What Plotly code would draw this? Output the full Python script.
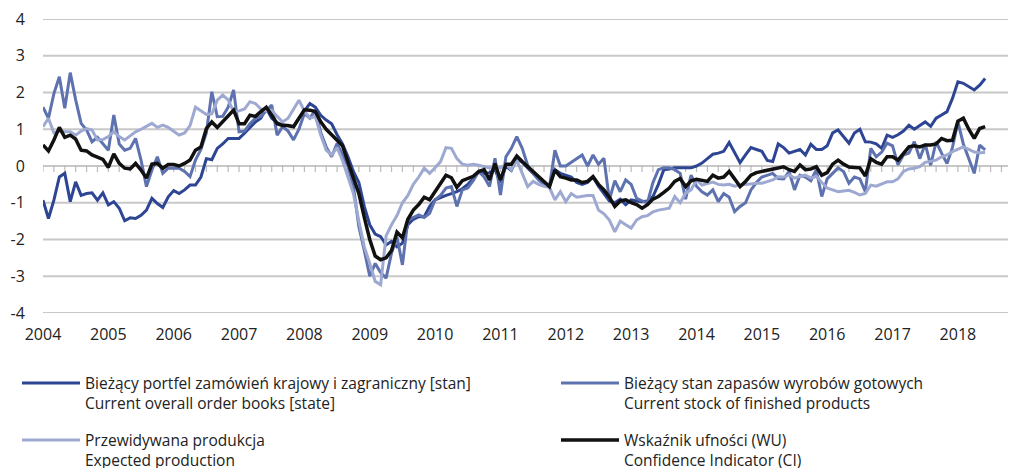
import plotly.graph_objects as go

years = [str(y) for y in range(2004, 2019)]
y_ticks = [-4, -3, -2, -1, 0, 1, 2, 3, 4]
y_labels = ["-4", "-3", "-2", "-1", "0", "1", "2", "3", "4"]

portfel = [
    -0.93, -1.43, -0.93, -0.30, -0.20, -0.97, -0.43, -0.80, -0.75, -0.73, -0.93, -0.73,
    -1.06, -0.97, -1.15, -1.49, -1.41, -1.43, -1.34, -1.20, -0.88, -1.02, -1.13, -0.84,
    -0.67, -0.75, -0.65, -0.52, -0.52, -0.30, 0.20, 0.17, 0.48, 0.60, 0.75, 0.75,
    0.75, 0.89, 1.05, 1.20, 1.30, 1.57, 1.30, 1.18, 1.12, 1.10, 1.07, 1.30,
    1.50, 1.70, 1.60, 1.38, 1.25, 1.15, 0.85, 0.60, 0.25, -0.15, -0.45, -1.10,
    -1.60, -1.85, -1.92, -2.15, -2.05, -2.20, -2.10, -1.60, -1.45, -1.38, -1.38, -1.10,
    -0.92, -0.85, -0.80, -0.75, -0.70, -0.62, -0.50, -0.35, -0.15, -0.20, -0.18, -0.10,
    -0.45, 0.00, -0.12, 0.20, 0.10, -0.05, -0.20, -0.35, -0.50, -0.55, -0.10, -0.20,
    -0.25, -0.30, -0.45, -0.50, -0.45, -0.30, -0.55, -0.75, -0.95, -1.00, -0.90, -1.05,
    -0.92, -0.95, -0.97, -0.95, -0.83, -0.50, -0.10, -0.08, -0.05, -0.05, -0.05, -0.05,
    0.00, 0.08, 0.20, 0.32, 0.35, 0.40, 0.64, 0.35, 0.09, 0.30, 0.50, 0.45,
    0.40, 0.15, 0.12, 0.60, 0.50, 0.35, 0.40, 0.45, 0.30, 0.59, 0.45, 0.45,
    0.55, 0.90, 0.98, 0.80, 0.62, 0.90, 1.00, 0.66, 0.65, 0.60, 0.48, 0.84,
    0.78, 0.85, 0.95, 1.11, 1.00, 1.10, 1.20, 1.08, 1.30, 1.39, 1.48, 1.84,
    2.29, 2.25, 2.15, 2.07, 2.20, 2.38,
]

zapasy = [
    1.60, 1.30, 1.97, 2.43, 1.57, 2.54, 1.80, 1.16, 0.98, 0.66, 0.78, 0.60,
    0.43, 1.39, 0.60, 0.43, 0.48, 0.75, 0.16, -0.56, -0.11, 0.25, -0.20, -0.06,
    -0.06, -0.06, -0.15, -0.29, 0.16, 0.45, 0.90, 2.02, 1.34, 1.35, 1.60, 2.07,
    0.93, 0.95, 1.15, 1.30, 1.35, 1.50, 1.66, 0.84, 1.07, 0.95, 0.71, 1.00,
    1.43, 1.30, 1.52, 0.91, 0.52, 0.25, 0.62, 0.30, 0.00, -0.56, -1.65, -2.30,
    -3.00, -2.65, -2.90, -3.05, -2.37, -1.93, -2.69, -1.47, -1.40, -1.33, -1.40, -1.29,
    -0.92, -0.80, -0.60, -0.56, -1.10, -0.65, -0.60, -0.40, -0.15, -0.30, -0.56, 0.21,
    -0.79, 0.25, 0.48, 0.80, 0.48, 0.02, -0.20, -0.38, -0.50, -0.56, 0.43, 0.00,
    0.00, 0.10, 0.20, 0.30, 0.00, 0.30, 0.05, 0.21, -0.92, -0.40, -0.70, -0.38,
    -0.50, -0.88, -0.95, -1.00, -0.45, -0.10, -0.05, -0.05, -0.10, -0.20, -0.90, -0.25,
    -0.55, -0.70, -0.79, -0.65, -0.97, -0.75, -0.85, -1.24, -1.10, -1.00, -0.65, -0.45,
    -0.30, -0.25, -0.20, -0.34, -0.35, -0.15, -0.65, -0.25, -0.30, -0.40, -0.10, -0.83,
    -0.35, -0.20, -0.05, -0.15, -0.47, -0.30, -0.35, -0.70, 0.48, 0.25, 0.38, 0.62,
    0.55, 0.03, 0.30, 0.35, 0.66, 0.20, 0.60, 0.02, 0.66, 0.35, 0.07, 0.50,
    1.20, 0.60, 0.20, -0.20, 0.57, 0.44,
]

produkcja = [
    1.07, 1.30, 0.90, 0.95, 0.93, 0.93, 0.84, 0.95, 1.02, 0.98, 0.71, 0.72,
    0.80, 0.93, 0.80, 0.71, 0.82, 0.93, 1.00, 1.07, 1.16, 1.05, 1.11, 1.05,
    0.95, 0.84, 0.90, 1.10, 1.60, 1.50, 1.40, 1.42, 1.79, 1.93, 1.80, 1.48,
    1.50, 1.55, 1.75, 1.70, 1.55, 1.50, 1.52, 1.35, 1.20, 1.30, 1.55, 1.79,
    1.50, 1.30, 1.35, 0.84, 0.43, 0.30, 0.50, 0.15, -0.30, -0.75, -1.50, -2.20,
    -2.65, -3.14, -3.23, -1.90, -1.60, -1.35, -1.00, -0.80, -0.50, -0.30, -0.06, -0.20,
    -0.05, 0.12, 0.50, 0.48, 0.20, 0.05, 0.02, 0.05, 0.02, -0.02, -0.05, 0.00,
    -0.05, 0.05, -0.10, 0.16, -0.20, -0.56, -0.42, -0.50, -0.55, -0.58, -0.92, -0.70,
    -0.97, -0.75, -0.85, -0.82, -0.80, -0.80, -1.20, -1.30, -1.47, -1.79, -1.50, -1.60,
    -1.69, -1.47, -1.38, -1.35, -1.25, -1.20, -1.18, -1.15, -0.83, -1.00, -0.74, -0.65,
    -0.38, -0.52, -0.48, -0.44, -0.50, -0.52, -0.50, -0.55, -0.52, -0.50, -0.47, -0.47,
    -0.47, -0.42, -0.38, -0.29, -0.30, -0.24, -0.33, -0.28, -0.25, -0.33, -0.28, -0.45,
    -0.60, -0.65, -0.70, -0.68, -0.66, -0.72, -0.79, -0.75, -0.52, -0.55, -0.50, -0.43,
    -0.43, -0.35, -0.15, -0.08, -0.06, -0.02, 0.10, 0.12, 0.16, 0.25, 0.30, 0.39,
    0.45, 0.52, 0.45, 0.38, 0.36, 0.37,
]

wskaznik = [
    0.57, 0.41, 0.71, 1.05, 0.78, 0.84, 0.73, 0.43, 0.41, 0.30, 0.24, 0.18,
    -0.04, 0.33, 0.07, -0.06, -0.08, 0.07, -0.11, -0.33, 0.05, 0.07, -0.06, 0.04,
    0.04, 0.00, 0.07, 0.16, 0.43, 0.52, 1.02, 1.20, 1.05, 1.20, 1.38, 1.52,
    1.15, 1.15, 1.38, 1.35, 1.48, 1.60, 1.38, 1.15, 1.10, 1.10, 1.07, 1.30,
    1.53, 1.52, 1.48, 1.20, 1.00, 0.85, 0.70, 0.55, 0.10, -0.30, -0.75, -1.40,
    -2.00, -2.45, -2.55, -2.50, -2.30, -1.80, -1.95, -1.45, -1.20, -1.05, -0.85, -0.92,
    -0.70, -0.50, -0.25, -0.32, -0.58, -0.40, -0.35, -0.28, -0.15, -0.10, -0.38, 0.07,
    -0.38, 0.05, 0.05, 0.27, 0.12, -0.02, -0.15, -0.30, -0.45, -0.56, -0.11, -0.29,
    -0.33, -0.38, -0.38, -0.45, -0.42, -0.29, -0.50, -0.65, -0.85, -1.10, -0.95, -0.92,
    -1.00, -1.05, -1.15, -1.05, -0.90, -0.83, -0.72, -0.60, -0.42, -0.34, -0.56, -0.40,
    -0.36, -0.38, -0.42, -0.25, -0.33, -0.30, -0.15, -0.35, -0.56, -0.42, -0.25, -0.18,
    -0.15, -0.12, -0.08, -0.05, -0.02, -0.10, -0.15, 0.03, -0.10, -0.08, -0.02, -0.25,
    -0.18, 0.05, 0.16, 0.05, -0.03, -0.04, -0.05, -0.27, 0.20, 0.10, 0.05, 0.25,
    0.25, 0.16, 0.35, 0.52, 0.55, 0.52, 0.57, 0.57, 0.60, 0.75, 0.69, 0.70,
    1.22, 1.30, 1.00, 0.75, 1.02, 1.07,
]

names = [
    "Bieżący portfel zamówień krajowy i zagraniczny [stan]<br>Current overall order books [state]",
    "Bieżący stan zapasów wyrobów gotowych<br>Current stock of finished products",
    "Przewidywana produkcja<br>Expected production",
    "Wskaźnik ufności (WU)<br>Confidence Indicator (CI)",
]
colors = ["#2d4592", "#5e72b0", "#9ea9d2", "#111111"]
widths = [3, 3, 3, 3.5]
series = [portfel, zapasy, produkcja, wskaznik]
legend_ids = ["legend", "legend2", "legend3", "legend4"]

FONT = "Open Sans"
TXT = "#222222"
GRID = "#c8c8c8"
XR = [0, 177.2]
YR = [-4, 4]
PLOT_H = 468 - 19 - 155

fig = go.Figure()

# horizontal gridlines at every y tick, drawn as a plain line trace
grid_x, grid_y = [], []
for v in y_ticks:
    grid_x += [XR[0], XR[1], None]
    grid_y += [v, v, None]
fig.add_trace(go.Scatter(
    x=grid_x, y=grid_y, mode="lines", line=dict(color=GRID, width=2),
    showlegend=False, hoverinfo="skip", cliponaxis=False,
))

# small category ticks hanging below the zero line (every second month)
tick_x = list(range(0, 177, 2))
tick_len = 5
tick_offset = -(tick_len / 2) * (YR[1] - YR[0]) / PLOT_H
fig.add_trace(go.Scatter(
    x=tick_x, y=[tick_offset] * len(tick_x), mode="markers",
    marker=dict(symbol="line-ns-open", size=tick_len, color="#bbbbbb",
                line=dict(color="#bbbbbb", width=1.2)),
    showlegend=False, hoverinfo="skip",
))

for s, n, c, w, lg in zip(series, names, colors, widths, legend_ids):
    fig.add_trace(go.Scatter(
        x=list(range(len(s))), y=s, mode="lines", name=n, legend=lg,
        line=dict(color=c, width=w),
    ))


def leg(xc, yp):
    return dict(
        orientation="v", xref="container", yref="paper",
        x=xc, y=yp, xanchor="left", yanchor="top",
        itemwidth=58, valign="top", bgcolor="rgba(0,0,0,0)",
        font=dict(family=FONT, size=15.5, color=TXT),
    )


fig.update_layout(
    template="none",
    width=1011, height=468,
    margin=dict(l=43, r=3, t=19, b=155, autoexpand=False),
    paper_bgcolor="white", plot_bgcolor="white",
    font=dict(family=FONT, color=TXT),
    showlegend=True,
    legend=leg(17 / 1011, -0.182),
    legend2=leg(556 / 1011, -0.182),
    legend3=leg(17 / 1011, -0.376),
    legend4=leg(556 / 1011, -0.376),
    xaxis=dict(
        range=XR, tickvals=[12 * i for i in range(len(years))], ticktext=years,
        showgrid=False, zeroline=False, showline=False,
        ticks="outside", ticklen=7, tickcolor="rgba(0,0,0,0)",
        tickfont=dict(family=FONT, size=16, color=TXT),
    ),
    yaxis=dict(
        range=YR, tickvals=y_ticks, ticktext=y_labels,
        showgrid=False, zeroline=False, showline=False,
        ticks="outside", ticklen=14, tickcolor="rgba(0,0,0,0)",
        tickfont=dict(family=FONT, size=16, color=TXT),
    ),
)

fig.write_html("out.html", config={"displayModeBar": False},
               post_script="document.body.style.margin='0px';")
